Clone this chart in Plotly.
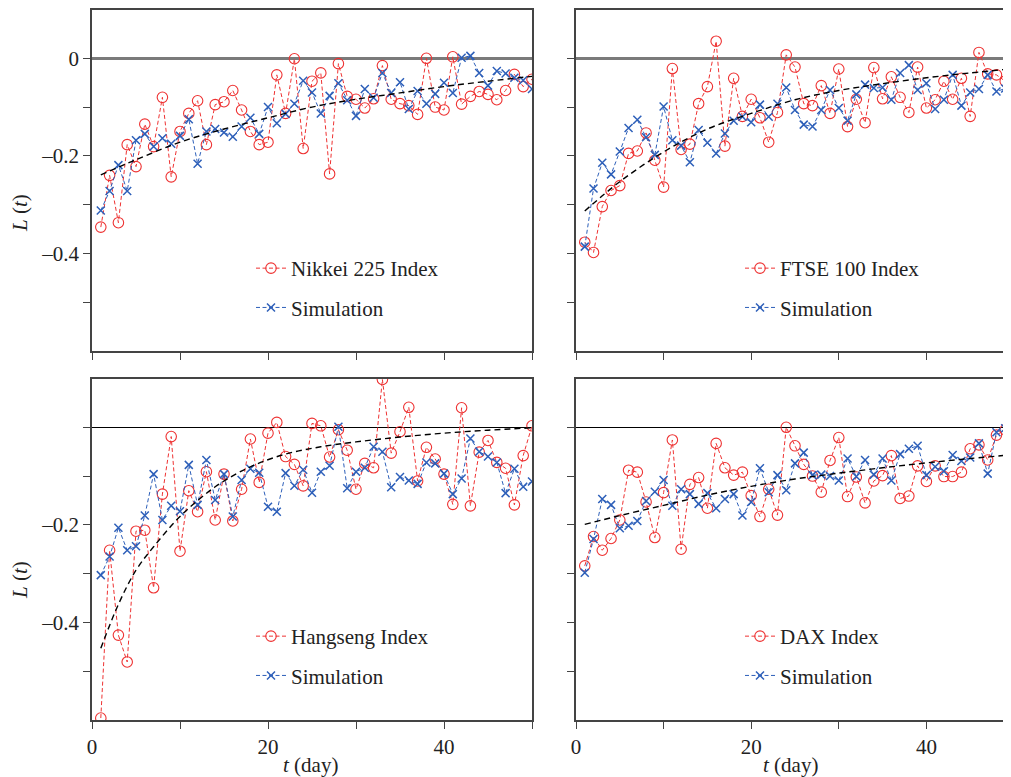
import plotly.graph_objects as go

# Page is rendered with an 8px body margin; figure sized to fit the window exactly.
PAGE_OFF = 8
W, H = 1011 - PAGE_OFF, 777 - PAGE_OFF

t = list(range(1, 51))

nikkei = [-0.346, -0.240, -0.337, -0.177, -0.222, -0.135, -0.181, -0.080, -0.243, -0.150,
          -0.113, -0.087, -0.177, -0.095, -0.089, -0.066, -0.106, -0.150, -0.177, -0.172,
          -0.034, -0.113, -0.001, -0.185, -0.047, -0.030, -0.237, -0.011, -0.078, -0.084,
          -0.102, -0.083, -0.015, -0.084, -0.093, -0.097, -0.115, 0.000, -0.100, -0.106,
          0.003, -0.094, -0.078, -0.068, -0.074, -0.085, -0.066, -0.033, -0.058, -0.043]
nikkei_sim = [-0.312, -0.272, -0.219, -0.272, -0.168, -0.155, -0.181, -0.164, -0.175, -0.159,
              -0.125, -0.216, -0.150, -0.145, -0.152, -0.161, -0.140, -0.122, -0.155, -0.100,
              -0.133, -0.114, -0.093, -0.046, -0.070, -0.113, -0.077, -0.051, -0.086, -0.118,
              -0.063, -0.081, -0.030, -0.071, -0.049, -0.104, -0.067, -0.093, -0.073, -0.050,
              -0.071, 0.001, 0.005, -0.030, -0.056, -0.026, -0.031, -0.040, -0.045, -0.063]
nikkei_fit_t = [1, 5, 10, 15, 20, 25, 30, 35, 40, 45, 50]
nikkei_fit = [-0.239, -0.208, -0.172, -0.145, -0.122, -0.100, -0.084, -0.071, -0.058, -0.047, -0.037]

ftse = [-0.377, -0.398, -0.304, -0.271, -0.261, -0.195, -0.190, -0.153, -0.209, -0.264,
        -0.021, -0.187, -0.176, -0.093, -0.058, 0.035, -0.180, -0.041, -0.119, -0.084,
        -0.122, -0.172, -0.111, 0.007, -0.018, -0.093, -0.097, -0.056, -0.113, -0.022,
        -0.140, -0.084, -0.132, -0.019, -0.083, -0.038, -0.080, -0.111, -0.018, -0.102,
        -0.085, -0.047, -0.084, -0.041, -0.119, 0.012, -0.032, -0.034, -0.047, -0.130]
ftse_sim = [-0.386, -0.267, -0.214, -0.238, -0.191, -0.143, -0.126, -0.162, -0.198, -0.099,
            -0.168, -0.179, -0.213, -0.147, -0.173, -0.195, -0.154, -0.128, -0.120, -0.131,
            -0.095, -0.120, -0.093, -0.060, -0.106, -0.136, -0.140, -0.106, -0.065, -0.102,
            -0.128, -0.074, -0.054, -0.061, -0.060, -0.085, -0.030, -0.014, -0.065, -0.051,
            -0.104, -0.085, -0.034, -0.097, -0.070, -0.063, -0.034, -0.068, -0.062, -0.075]
ftse_fit_t = [1, 5, 10, 15, 20, 25, 30, 35, 40, 45, 50]
ftse_fit = [-0.313, -0.253, -0.192, -0.145, -0.113, -0.085, -0.066, -0.052, -0.040, -0.030, -0.021]

hang = [-0.596, -0.252, -0.426, -0.481, -0.213, -0.211, -0.329, -0.137, -0.019, -0.254,
        -0.130, -0.173, -0.091, -0.190, -0.096, -0.192, -0.127, -0.024, -0.113, -0.012,
        0.010, -0.060, -0.076, -0.120, 0.008, 0.003, -0.061, -0.005, -0.047, -0.127,
        -0.074, -0.083, 0.098, -0.053, -0.009, 0.041, -0.110, -0.041, -0.065, -0.096,
        -0.158, 0.040, -0.161, -0.051, -0.027, -0.072, -0.084, -0.159, -0.058, 0.003]
hang_sim = [-0.303, -0.265, -0.206, -0.252, -0.244, -0.181, -0.096, -0.190, -0.161, -0.172,
            -0.077, -0.159, -0.067, -0.149, -0.096, -0.183, -0.108, -0.085, -0.093, -0.163,
            -0.173, -0.094, -0.120, -0.087, -0.134, -0.091, -0.079, 0.001, -0.125, -0.091,
            -0.083, -0.040, -0.050, -0.123, -0.102, -0.109, -0.116, -0.072, -0.074, -0.095,
            -0.137, -0.105, -0.023, -0.050, -0.060, -0.072, -0.135, -0.085, -0.122, -0.111]
hang_fit_t = [1, 3, 5, 7, 10, 14, 18, 22, 26, 30, 35, 40, 45, 50]
hang_fit = [-0.453, -0.363, -0.293, -0.245, -0.183, -0.122, -0.081, -0.055, -0.040, -0.030,
            -0.020, -0.012, -0.006, -0.001]

dax = [-0.284, -0.224, -0.252, -0.228, -0.190, -0.088, -0.092, -0.153, -0.226, -0.134,
       -0.026, -0.250, -0.117, -0.103, -0.166, -0.033, -0.083, -0.098, -0.092, -0.140,
       -0.183, -0.127, -0.180, 0.000, -0.038, -0.076, -0.100, -0.133, -0.068, -0.021,
       -0.142, -0.102, -0.155, -0.110, -0.099, -0.058, -0.146, -0.141, -0.079, -0.111,
       -0.079, -0.101, -0.101, -0.092, -0.044, -0.036, -0.067, -0.016, -0.005, -0.080]
dax_sim = [-0.298, -0.229, -0.147, -0.159, -0.207, -0.202, -0.192, -0.151, -0.132, -0.108,
           -0.161, -0.127, -0.137, -0.157, -0.135, -0.166, -0.147, -0.137, -0.181, -0.153,
           -0.084, -0.133, -0.098, -0.129, -0.074, -0.052, -0.098, -0.097, -0.100, -0.109,
           -0.064, -0.101, -0.067, -0.097, -0.064, -0.109, -0.055, -0.044, -0.038, -0.098,
           -0.081, -0.090, -0.057, -0.069, -0.062, -0.033, -0.095, -0.010, -0.002, -0.010]
dax_fit_t = [1, 5, 10, 15, 20, 25, 30, 35, 40, 45, 50]
dax_fit = [-0.199, -0.181, -0.160, -0.139, -0.121, -0.106, -0.094, -0.083, -0.073, -0.064, -0.056]

series_names = ["Nikkei 225 Index", "FTSE 100 Index", "Hangseng Index", "DAX Index"]
sim_name = "Simulation"

y_tickvals = [0, -0.1, -0.2, -0.3, -0.4, -0.5]
y_ticktext_top = ["0", "", "\u20130.2", "", "\u20130.4", ""]
y_ticktext_bottom = ["", "", "\u20130.2", "", "\u20130.4", ""]
x_tickvals = [0, 10, 20, 30, 40, 50]
x_ticktext = ["0", "", "20", "", "40", ""]

FONT = "Liberation Serif"
RED = "rgb(238,50,50)"
BLUE = "rgb(45,95,185)"
FRAME = "#444444"


def px_x(p):
    return (p - PAGE_OFF) / W


def px_y(p):
    return 1 - (p - PAGE_OFF) / H


XL = [px_x(92), px_x(532)]
XR = [px_x(576), 1.0]
YT = [px_y(351), px_y(9.5)]
YB = [px_y(720), px_y(378.5)]

panels = [
    dict(name=series_names[0], data=nikkei, sim=nikkei_sim, ft=nikkei_fit_t, fit=nikkei_fit,
         xa="x", ya="y", lg="legend"),
    dict(name=series_names[1], data=ftse, sim=ftse_sim, ft=ftse_fit_t, fit=ftse_fit,
         xa="x2", ya="y2", lg="legend2"),
    dict(name=series_names[2], data=hang, sim=hang_sim, ft=hang_fit_t, fit=hang_fit,
         xa="x3", ya="y3", lg="legend3"),
    dict(name=series_names[3], data=dax, sim=dax_sim, ft=dax_fit_t, fit=dax_fit,
         xa="x4", ya="y4", lg="legend4"),
]

fig = go.Figure()
for p in panels:
    fig.add_trace(go.Scatter(
        x=t, y=p["data"], mode="lines+markers", name=p["name"],
        line=dict(color=RED, width=1, dash="4px,2.5px"),
        marker=dict(symbol="circle-open", size=10.5, color=RED, line=dict(width=1.1, color=RED)),
        xaxis=p["xa"], yaxis=p["ya"], legend=p["lg"], legendgroup=p["lg"] + "a"))
    fig.add_trace(go.Scatter(
        x=t, y=p["sim"], mode="lines+markers", name=sim_name,
        line=dict(color=BLUE, width=1, dash="4px,2.5px"),
        marker=dict(symbol="x-thin-open", size=8, color=BLUE, line=dict(width=1.5, color=BLUE)),
        xaxis=p["xa"], yaxis=p["ya"], legend=p["lg"], legendgroup=p["lg"] + "b"))
    fig.add_trace(go.Scatter(
        x=p["ft"], y=p["fit"], mode="lines", showlegend=False, hoverinfo="skip",
        line=dict(color="black", width=1.4, dash="6px,4px", shape="spline"),
        xaxis=p["xa"], yaxis=p["ya"]))


def xaxis(domain, rng, anchor, labels):
    return dict(domain=domain, range=rng, anchor=anchor, showline=True, mirror=True,
                linecolor=FRAME, linewidth=1.5, ticks="outside", ticklen=7, tickwidth=1.2,
                tickcolor=FRAME, tickvals=x_tickvals, ticktext=x_ticktext,
                showticklabels=labels, showgrid=False, zeroline=False, automargin=False,
                tickfont=dict(family=FONT, size=21, color="#222"))


def yaxis(domain, anchor, ticktext, labels, mirror, zcolor, zwidth):
    return dict(domain=domain, range=[-0.6, 0.1], anchor=anchor, showline=True, mirror=mirror,
                linecolor=FRAME, linewidth=1.5, ticks="outside", ticklen=7, tickwidth=1.2,
                tickcolor=FRAME, tickvals=y_tickvals, ticktext=ticktext,
                showticklabels=labels, showgrid=False, zeroline=True, automargin=False,
                zerolinecolor=zcolor, zerolinewidth=zwidth,
                tickfont=dict(family=FONT, size=21, color="#222"))


def legend(xp, yp):
    return dict(x=px_x(xp), y=px_y(yp), xanchor="left", yanchor="top",
                bgcolor="rgba(0,0,0,0)", borderwidth=0, tracegroupgap=9,
                font=dict(family=FONT, size=21, color="#222"))


fig.update_layout(
    template="none",
    width=W, height=H,
    margin=dict(l=0, r=0, t=0, b=0, pad=0),
    paper_bgcolor="white", plot_bgcolor="white",
    font=dict(family=FONT, size=21, color="#222"),
    xaxis=xaxis(XL, [0, 50], "y", False),
    yaxis=yaxis(YT, "x", y_ticktext_top, True, True, "#7a7a7a", 2.5),
    xaxis2=xaxis(XR, [0, 49.66], "y2", False),
    yaxis2=yaxis(YT, "x2", y_ticktext_top, False, False, "#7a7a7a", 2.5),
    xaxis3=xaxis(XL, [0, 50], "y3", True),
    yaxis3=yaxis(YB, "x3", y_ticktext_bottom, True, True, "black", 1.3),
    xaxis4=xaxis(XR, [0, 49.66], "y4", True),
    yaxis4=yaxis(YB, "x4", y_ticktext_bottom, False, False, "black", 1.3),
    legend=legend(251, 248),
    legend2=legend(740, 248),
    legend3=legend(251, 616),
    legend4=legend(740, 616),
    showlegend=True,
)

ytitle = "<i>L</i> (<i>t</i>)"
xtitle = "<i>t</i> (day)"
for (xp, yp, txt, ang) in [(20, 213, ytitle, -90), (20, 580, ytitle, -90),
                           (310, 765, xtitle, 0), (790, 765, xtitle, 0)]:
    fig.add_annotation(x=px_x(xp), y=px_y(yp), xref="paper", yref="paper", text=txt,
                       showarrow=False, textangle=ang, xanchor="center", yanchor="middle",
                       font=dict(family=FONT, size=21, color="#222"))

fig.write_html("out.html")
